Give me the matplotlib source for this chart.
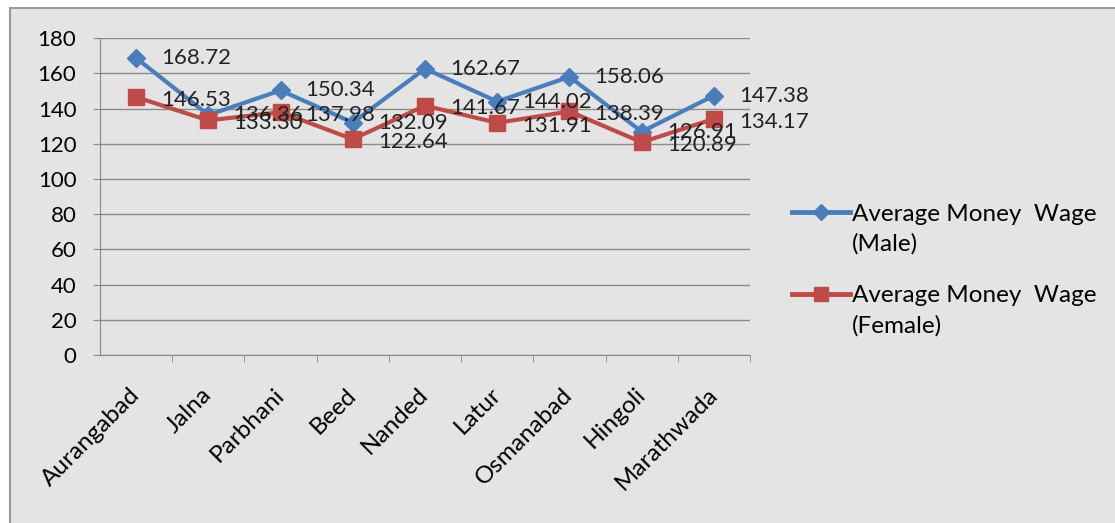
import matplotlib.pyplot as plt
import matplotlib.transforms as mtransforms
from matplotlib.patches import Rectangle
from matplotlib.ticker import FixedLocator

plt.rcParams['font.family'] = ['Lato', 'DejaVu Sans']

districts = ['Aurangabad', 'Jalna', 'Parbhani', 'Beed', 'Nanded', 'Latur',
             'Osmanabad', 'Hingoli', 'Marathwada']
male = [168.72, 136.36, 150.34, 132.09, 162.67, 144.02, 158.06, 126.91, 147.38]
female = [146.53, 133.30, 137.98, 122.64, 141.67, 131.91, 138.39, 120.89, 134.17]
yticks = [0, 20, 40, 60, 80, 100, 120, 140, 160, 180]
series_names = ['Average Money  Wage', 'Average Money  Wage']
series_sub = ['(Male)', '(Female)']

blue = '#4a7ebb'
red = '#be4b48'
bg = '#e4e4e4'

fig = plt.figure(figsize=(11.15, 5.23), dpi=100, facecolor='white')
fig.patches.append(Rectangle((0.009, -0.01), 1.0, 0.995, transform=fig.transFigure,
                             facecolor=bg, edgecolor='#9a9a9a', linewidth=1.5, zorder=-10))
ax = fig.add_axes([0.0897, 0.321, 0.583, 0.606])
ax.set_facecolor('none')

x = list(range(len(districts)))
ax.plot(x, male, color=blue, lw=3, marker='D', ms=9, label=series_names[0])
ax.plot(x, female, color=red, lw=3, marker='s', ms=11, label=series_names[1])

# data labels sit to the right of each point
for xi, v in zip(x, male):
    ax.annotate(f'{v:.2f}', (xi, v), xytext=(18, 0), textcoords='offset points',
                va='center', ha='left', fontsize=16, color='#222222')
for xi, v in zip(x, female):
    ax.annotate(f'{v:.2f}', (xi, v), xytext=(18, -2), textcoords='offset points',
                va='center', ha='left', fontsize=16, color='#222222')

ax.set_xlim(-0.5, len(districts) - 0.5)
ax.set_ylim(0, 180)
ax.set_yticks(yticks)
ax.set_xticks(x)
ax.xaxis.set_minor_locator(FixedLocator([i + 0.5 for i in x]))
ax.set_xticklabels(districts, rotation=45, ha='right', va='center',
                   rotation_mode='anchor', fontsize=17.5)
shift = mtransforms.ScaledTranslation(0.14, 0, fig.dpi_scale_trans)
for lbl in ax.get_xticklabels():
    lbl.set_transform(lbl.get_transform() + shift)
ax.tick_params(axis='y', labelsize=16, length=5, color='#888888', pad=12)
ax.tick_params(axis='x', which='major', length=0, pad=26)
ax.tick_params(axis='x', which='minor', length=5, color='#888888')
ax.grid(axis='y', color='#8c8c8c', lw=1)
ax.set_axisbelow(True)
for s in ['top', 'right']:
    ax.spines[s].set_visible(False)
ax.spines['left'].set_color('#888888')
ax.spines['bottom'].set_color('#888888')

# legend: first line via legend, second line hung under each entry
leg = ax.legend(loc='upper left', bbox_to_anchor=(1.0315, 0.547), bbox_transform=ax.transAxes,
                frameon=False, fontsize=17.5, handlelength=2.35, handletextpad=0.1,
                labelspacing=2.5, markerscale=0.9)
for h in leg.get_lines():
    h.set_linewidth(3.5)
for t, sub in zip(leg.get_texts(), series_sub):
    ax.annotate(sub, xy=(0, 0), xycoords=t, xytext=(0, -6), textcoords='offset points',
                ha='left', va='top', fontsize=17.5, zorder=10)

fig.savefig('out.png', dpi=100, facecolor='white')
